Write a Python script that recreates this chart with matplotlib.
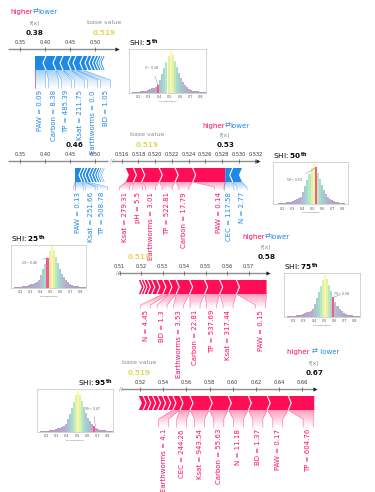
import numpy as np
import matplotlib.pyplot as plt
from matplotlib.patches import Polygon
from matplotlib.colors import to_rgb, to_rgba

W, H = 375, 492
RED = "#ff0d57"
BLUE = "#1e88e5"
GOLD = "#e2d85a"
GRAY = "#8c8c8c"

base_value = 0.519

# SHAP contributions, listed from f(x) outwards ("" = small unlabeled feature)
p05_f = 0.38
p05_neg_names = ["PAW = 0.09", "Carbon = 8.38", "TP = 485.39", "Ksat = 211.75",
                 "Earthworms = 0.0", "BD = 1.05", "", "", "", "", "", "", ""]
p05_neg_vals = [0.022, 0.020, 0.014, 0.016, 0.010, 0.014,
                0.010, 0.008, 0.007, 0.006, 0.005, 0.004, 0.003]

p25_f = 0.46
p25_neg_names = ["PAW = 0.13", "Ksat = 251.66", "TP = 508.78", "", "", "", "", "", "", ""]
p25_neg_vals = [0.014, 0.006, 0.006, 0.007, 0.006, 0.006, 0.005, 0.004, 0.003, 0.002]

p50_f = 0.5284
p50_pos_names = ["PAW = 0.14", "Carbon = 17.79", "TP = 522.81", "Earthworms = 3.01",
                 "pH = 5.5", "Ksat = 279.31"]
p50_pos_vals = [0.0039, 0.0021, 0.0019, 0.0021, 0.0010, 0.0009]
p50_neg_names = ["CEC = 117.58", "N = 2.77"]
p50_neg_vals = [0.0009, 0.0011]

p75_f = 0.5784
p75_pos_names = ["PAW = 0.15", "Ksat = 317.44", "TP = 537.69", "Carbon = 22.81",
                 "Earthworms = 3.53", "BD = 1.3", "N = 4.45", "", "", "", "", "", ""]
p75_pos_vals = [0.0140, 0.0078, 0.0070, 0.0070, 0.0062, 0.0034, 0.0028,
                0.0028, 0.0024, 0.0020, 0.0016, 0.0013, 0.0011]

p95_f = 0.6702
p95_pos_names = ["TP = 604.76", "PAW = 0.17", "BD = 1.37", "N = 11.18", "Carbon = 55.63",
                 "Ksat = 943.54", "CEC = 244.26", "Earthworms = 4.1",
                 "", "", "", "", "", "", ""]
p95_pos_vals = [0.0224, 0.0181, 0.0163, 0.0173, 0.0164, 0.0166, 0.0086, 0.0061,
                0.0045, 0.0044, 0.0043, 0.0043, 0.0042, 0.0040, 0.0037]

# SHI distribution (relative counts per 0.02 bin starting at 0.14)
shi_bin_left = np.round(np.arange(0.14, 0.855, 0.02), 2)
shi_counts = [1, 1.5, 2, 2.5, 3, 4, 5, 6, 8, 10, 11, 14, 18, 30, 44, 58, 72, 88,
              100, 90, 75, 60, 46, 34, 25, 18, 13, 9, 7, 5, 4, 3, 2, 1.5, 1, 0.5]
percentiles = [5, 25, 50, 75, 95]
percentile_shi = [0.38, 0.46, 0.53, 0.58, 0.67]

fig = plt.figure(figsize=(W / 100, H / 100), dpi=100)
bg = fig.add_axes([0, 0, 1, 1])
bg.set_axis_off()
bg.set_xlim(0, W)
bg.set_ylim(H, 0)


def higher_lower(x, y, sep=""):
    t1 = bg.text(x, y, "higher" + sep, color=RED, fontsize=5, ha="left", va="center")
    t2 = bg.annotate("⇄", xy=(1, 0), xycoords=t1, color=BLUE, fontsize=5,
                     ha="left", va="bottom")
    bg.annotate(sep + "lower", xy=(1, 0), xycoords=t2, color=BLUE, fontsize=5,
                ha="left", va="bottom")


def gradient_poly(ax, verts, color, y0, y1, a0=0.4):
    poly = Polygon(verts, closed=True, fc="none", ec="none")
    ax.add_patch(poly)
    rgba = np.zeros((40, 1, 4))
    rgba[..., :3] = to_rgb(color)
    rgba[..., 3] = np.linspace(a0, 0.0, 40)[:, None]
    xs = [p[0] for p in verts]
    im = ax.imshow(rgba, extent=(min(xs), max(xs), y1, y0), aspect="auto",
                   origin="upper", interpolation="bilinear", zorder=1)
    im.set_clip_path(poly)


def draw_force(ref_px, ref_v, ppu, A, axis_px, ticks, fmt, f,
               pos_vals=(), pos_names=(), neg_vals=(), neg_names=(),
               geom=(31, 39, 41), gap=13, arrow=True, brk=False,
               fx_label=True, base_label=True, base_num=True):
    ax = fig.add_axes([0, 0, 1, 1])
    ax.set_axis_off()
    vx = lambda px: ref_v + (px - ref_px) / ppu
    dv = lambda px: px / ppu

    # axis
    x0, x1 = vx(axis_px[0]), vx(axis_px[1])
    ax.plot([x0, x1], [A, A], color="#8f8f8f", lw=1.0, solid_capstyle="butt")
    if arrow:
        ax.plot([x1], [A], marker=">", ms=3, color="#222222", mew=0)
    if brk:
        ax.text(x0, A, "//", fontsize=4, color=GRAY, ha="center", va="center")
    ax.plot(ticks, [A] * len(ticks), ls="none", marker="|", ms=2.5, mew=0.6, color="#666666")
    for t in ticks:
        ax.text(t, A - 6, fmt % t, fontsize=3.6, color="#333333", ha="center", va="center")

    # header texts
    if fx_label:
        ax.text(f, A - 26, "f(x)", fontsize=4.5, color=GRAY, ha="center", va="center")
    ax.text(f, A - 16, f"{f:.2f}", fontsize=5.2, weight="bold", color="#111111",
            ha="center", va="center")
    if base_label:
        ax.text(base_value, A - 26, "base value", fontsize=4.5, color=GRAY,
                ha="center", va="center")
    if base_num:
        ax.text(base_value, A - 16, f"{base_value:.3f}", fontsize=5.2, weight="bold",
                color=GOLD, ha="center", va="center")

    top, bot, mid = A + 7, A + 21, A + 14
    ys, ye, yl = A + geom[0], A + geom[1], A + geom[2]
    c = dv(3)
    hw = dv(5)

    for vals, names, sign, color in ((pos_vals, pos_names, -1, RED),
                                      (neg_vals, neg_names, 1, BLUE)):
        cur = f
        segs = []
        for i, v in enumerate(vals):
            nxt = cur + sign * v
            if sign < 0:
                s, e = nxt, cur
                verts = [(s, top), (e, top), (e + (c if i else 0), mid), (e, bot),
                         (s, bot), (s + c, mid)]
                sep = [(e, top), (e + c, mid), (e, bot)]
            else:
                s, e = cur, nxt
                verts = [(s, top), (e, top), (e - c, mid), (e, bot), (s, bot),
                         (s - (c if i else 0), mid)]
                sep = [(s, top), (s - c, mid), (s, bot)]
            ax.add_patch(Polygon(verts, closed=True, fc=color, ec="none", zorder=3))
            if i:
                ax.plot(*zip(*sep), color="white", lw=0.8, zorder=4)
            segs.append((s, e))
            cur = nxt

        # label positions, spread away from f(x)
        lpos = []
        for i, ((s, e), name) in enumerate(zip(segs, names)):
            if not name:
                continue
            if not lpos:
                lx = f + sign * min(dv(6), (e - s) / 2)
            else:
                cen = (s + e) / 2
                lx = max(cen, lpos[-1] + dv(gap)) if sign > 0 else min(cen, lpos[-1] - dv(gap))
            lpos.append(lx)
            conn = [(s, bot), (e, bot), (lx + hw, ys), (lx + hw, ye),
                    (lx - hw, ye), (lx - hw, ys)]
            gradient_poly(ax, conn, color, bot, ye)
            for side in ((s, lx - hw), (e, lx + hw)):
                ax.plot([side[0], side[1], side[1]], [bot, ys, ye], color=color,
                        alpha=0.5, lw=0.5, zorder=2)
            ax.text(lx, yl, name, rotation=90, ha="center", va="top", fontsize=5,
                    color=color)

    if not pos_vals:
        ax.plot([f, f], [bot, ye], color=RED, alpha=0.5, lw=0.6, zorder=2)

    ax.set_xlim(vx(0), vx(W))
    ax.set_ylim(H, 0)
    return ax


def draw_inset(rect, pct, val, txt_xy, title_loc="left"):
    l, t, w, h = rect
    ax = fig.add_axes([l / W, 1 - (t + h) / H, w / W, h / H])
    cols = plt.cm.viridis(np.array(shi_counts) / max(shi_counts))
    cols[:, 3] = 0.4
    idx = np.searchsorted(shi_bin_left, val, side="right") - 1
    cols[idx] = to_rgba(RED, 0.7)
    ax.bar(shi_bin_left, shi_counts, width=0.02, align="edge", color=cols, lw=0)
    ax.set_xlim(0.11, 0.85)
    ax.set_ylim(0, max(shi_counts) * 1.03)
    ax.set_xticks([0.2, 0.3, 0.4, 0.5, 0.6, 0.7, 0.8])
    ax.set_xticklabels(["0.2", "0.3", "0.4", "0.5", "0.6", "0.7", "0.8"])
    ax.set_yticks([])
    ax.tick_params(axis="x", labelsize=2.4, labelcolor="#555555", length=1, width=0.3,
                   pad=1, color="#999999")
    ax.set_xlabel("SHI Distribution", fontsize=1.6, color="#555555", labelpad=0.8)
    for sp in ax.spines.values():
        sp.set_color("#cccccc")
        sp.set_linewidth(0.6)
    ax.annotate(f"{pct}$^{{th}}$: {val:.2f}", xy=(val + 0.01, shi_counts[idx]),
                xytext=txt_xy, textcoords="axes fraction", fontsize=2.3, color="#666666",
                ha="center", va="center",
                arrowprops=dict(arrowstyle="-", color="#777777", lw=0.3, shrinkA=1, shrinkB=0))
    ax.set_title(f"SHI: $\\mathbf{{{pct}^{{th}}}}$", loc=title_loc, fontsize=5.2, pad=1.5)


# row 1: 5th percentile
higher_lower(10, 12)
draw_force(20, 0.35, 500, 49, (8, 117), [0.35, 0.40, 0.45, 0.50], "%.2f", p05_f,
           neg_vals=p05_neg_vals, neg_names=p05_neg_names, geom=(31, 39, 41), gap=13)

# row 2: 25th (left) and 50th (right)
draw_force(20, 0.35, 500, 161, (8, 108), [0.35, 0.40, 0.45, 0.50], "%.2f", p25_f,
           neg_vals=p25_neg_vals, neg_names=p25_neg_names, geom=(26, 29, 31), gap=12,
           arrow=False, fx_label=False, base_label=False, base_num=False)
higher_lower(202, 126)
draw_force(121.7, 0.516, 8350, 161, (112, 258),
           [0.516, 0.518, 0.520, 0.522, 0.524, 0.526, 0.528, 0.530, 0.532], "%.3f", p50_f,
           pos_vals=p50_pos_vals, pos_names=p50_pos_names,
           neg_vals=p50_neg_vals, neg_names=p50_neg_names, geom=(26, 29, 31), gap=13,
           brk=True)

# row 3: 75th
higher_lower(242, 237)
draw_force(141, 0.52, 2150, 273, (118, 268), [0.51, 0.52, 0.53, 0.54, 0.55, 0.56, 0.57],
           "%.2f", p75_f, pos_vals=p75_pos_vals, pos_names=p75_pos_names,
           geom=(32, 35, 37), gap=16.5, brk=True, base_label=False)

# row 4: 95th
higher_lower(287, 352, sep=" ")
draw_force(140, 0.52, 1160, 389, (121, 315),
           [0.52, 0.54, 0.56, 0.58, 0.60, 0.62, 0.64, 0.66], "%.2f", p95_f,
           pos_vals=p95_pos_vals, pos_names=p95_pos_names,
           geom=(30, 38, 40), gap=18, brk=True)

# distribution insets
draw_inset((129, 49.3, 77, 43.4), percentiles[0], percentile_shi[0], (0.30, 0.56))
draw_inset((11, 245, 75, 42.7), percentiles[1], percentile_shi[1], (0.25, 0.58))
draw_inset((273.3, 161.7, 74.4, 42.3), percentiles[2], percentile_shi[2], (0.29, 0.55))
draw_inset((284.3, 273.3, 75.7, 43.4), percentiles[3], percentile_shi[3], (0.76, 0.52))
draw_inset((37.3, 389.3, 75.4, 42.4), percentiles[4], percentile_shi[4], (0.74, 0.54),
           title_loc="right")

fig.savefig("out.png", dpi=100)
